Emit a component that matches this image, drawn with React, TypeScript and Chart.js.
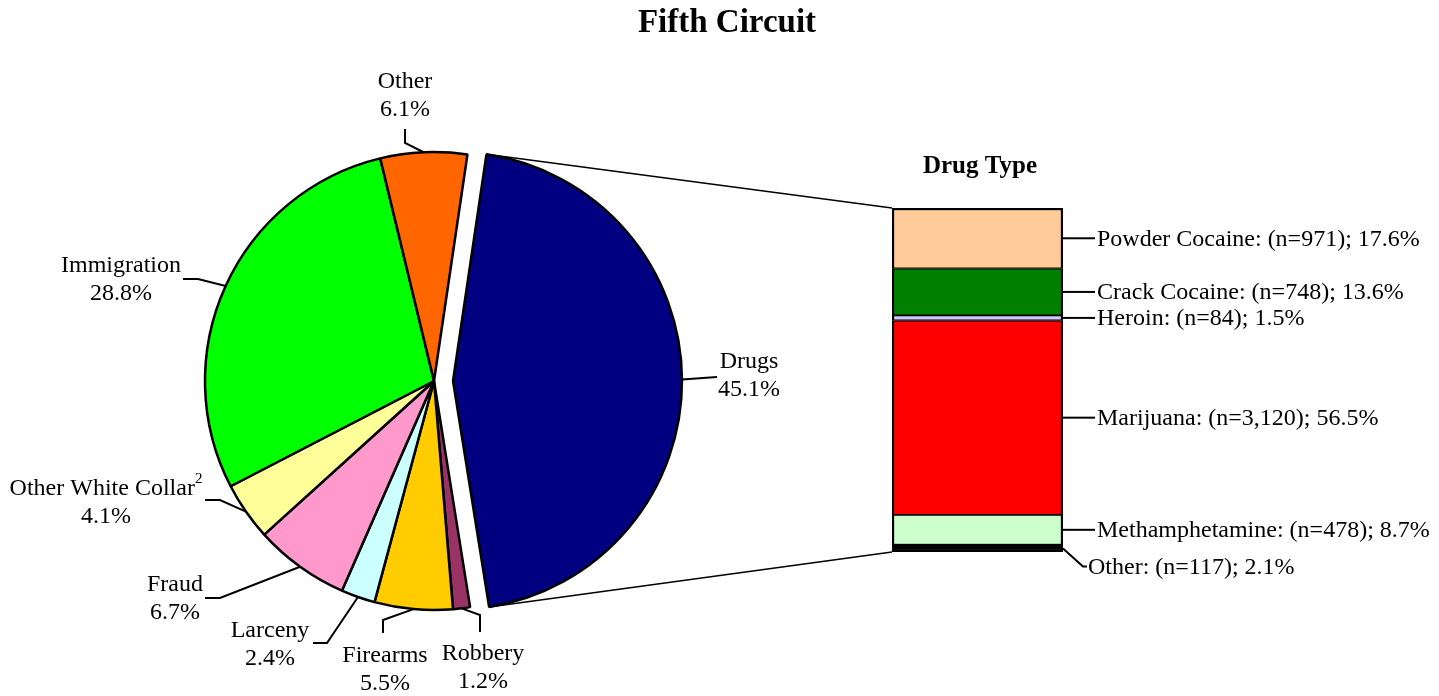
import React, { useEffect, useRef } from 'react';
import { Chart, registerables } from 'chart.js';

Chart.register(...registerables);

const W = 1439;
const H = 696;
const FONT = "'Liberation Serif', 'Times New Roman', serif";

// ---- Data: offense types (pie) ----
const offenseLabels = ['Drugs', 'Robbery', 'Firearms', 'Larceny', 'Fraud', 'Other White Collar', 'Immigration', 'Other'];
const offenseShares = [45.1, 1.2, 5.5, 2.4, 6.7, 4.1, 28.8, 6.1];
const offenseColors = ['#000080', '#993366', '#FFCC00', '#CCFFFF', '#FF99CC', '#FFFF99', '#00FF00', '#FF6600'];
const offenseSup = ['', '', '', '', '', '2', '', ''];

// ---- Data: drug types (stacked bar), bottom to top ----
const drugLabels = ['Other', 'Methamphetamine', 'Marijuana', 'Heroin', 'Crack Cocaine', 'Powder Cocaine'];
const drugCounts = [117, 478, 3120, 84, 748, 971];
const drugShares = [2.1, 8.7, 56.5, 1.5, 13.6, 17.6];
const drugColors = ['#000000', '#CCFFCC', '#FF0000', '#CCCCFF', '#008000', '#FFCC99'];

const TITLE = 'Fifth Circuit';
const BAR_TITLE = 'Drug Type';

// ---- Layout (positions of label text and leader elbows) ----
const pieLabelLayout = [
  { tx: 749, ty: 362, pts: [[717, 377]] },
  { tx: 483, ty: 654, pts: [[480, 632], [480, 615]] },
  { tx: 385, ty: 656, pts: [[383, 633], [383, 620]] },
  { tx: 270, ty: 631, pts: [[313, 643], [327, 643]] },
  { tx: 175, ty: 585, pts: [[205, 598], [220, 598]] },
  { tx: 106, ty: 489, pts: [[205, 500], [220, 500]] },
  { tx: 121, ty: 266, pts: [[183, 279], [198, 279]] },
  { tx: 405, ty: 82, pts: [[405, 129], [405, 143]] },
];
const barLabelDy = [18, 0, 0, 0, 0, 0];
const EXPLODE = 19;
const LABEL_FONT = 24;

export default function App() {
  const pieRef = useRef<HTMLCanvasElement>(null);
  const barRef = useRef<HTMLCanvasElement>(null);

  useEffect(() => {
    if (!pieRef.current || !barRef.current) return;

    const explodePlugin = {
      id: 'explode',
      afterDatasetsUpdate(chart: any) {
        const arc = chart.getDatasetMeta(0).data[0];
        const mid = (arc.startAngle + arc.endAngle) / 2;
        arc.x += EXPLODE * Math.cos(mid);
        arc.y += EXPLODE * Math.sin(mid);
      },
    };

    const pieLabelsPlugin = {
      id: 'pieLabels',
      afterDraw(chart: any) {
        const ctx = chart.ctx;
        const meta = chart.getDatasetMeta(0);
        ctx.save();
        ctx.fillStyle = '#000';
        ctx.textAlign = 'center';
        ctx.textBaseline = 'middle';
        ctx.font = `bold 33px ${FONT}`;
        ctx.fillText(TITLE, 727, 23);

        ctx.strokeStyle = '#000';
        ctx.lineWidth = 2;
        meta.data.forEach((arc: any, i: number) => {
          const L = pieLabelLayout[i];
          const mid = (arc.startAngle + arc.endAngle) / 2;
          const px = arc.x + arc.outerRadius * Math.cos(mid);
          const py = arc.y + arc.outerRadius * Math.sin(mid);
          ctx.beginPath();
          ctx.moveTo(L.pts[0][0], L.pts[0][1]);
          for (let k = 1; k < L.pts.length; k++) ctx.lineTo(L.pts[k][0], L.pts[k][1]);
          ctx.lineTo(px, py);
          ctx.stroke();

          ctx.font = `${LABEL_FONT}px ${FONT}`;
          const name = offenseLabels[i];
          const sup = offenseSup[i];
          if (sup) {
            const w1 = ctx.measureText(name).width;
            ctx.font = `15px ${FONT}`;
            const w2 = ctx.measureText(sup).width;
            const sx = L.tx - (w1 + w2) / 2;
            ctx.textAlign = 'left';
            ctx.font = `${LABEL_FONT}px ${FONT}`;
            ctx.fillText(name, sx, L.ty);
            ctx.font = `15px ${FONT}`;
            ctx.fillText(sup, sx + w1, L.ty - 10);
            ctx.textAlign = 'center';
            ctx.font = `${LABEL_FONT}px ${FONT}`;
          } else {
            ctx.fillText(name, L.tx, L.ty);
          }
          ctx.fillText(`${offenseShares[i].toFixed(1)}%`, L.tx, L.ty + 28);
        });
        ctx.restore();
      },
    };

    const pie = new Chart(pieRef.current, {
      type: 'pie',
      data: {
        labels: offenseLabels,
        datasets: [
          {
            data: offenseShares,
            backgroundColor: offenseColors,
            borderColor: '#000000',
            borderWidth: 2.5,
          },
        ],
      },
      options: {
        responsive: false,
        animation: false,
        events: [],
        rotation: 8.4,
        radius: 229,
        layout: { padding: { left: 0, right: W - 868, top: 66, bottom: 0 } },
        plugins: { legend: { display: false }, tooltip: { enabled: false } },
      } as any,
      plugins: [explodePlugin, pieLabelsPlugin],
    });

    const barLabelsPlugin = {
      id: 'barLabels',
      afterDraw(chart: any) {
        const ctx = chart.ctx;
        ctx.save();
        ctx.fillStyle = '#000';
        ctx.strokeStyle = '#000';
        ctx.lineWidth = 2;
        const top = chart.getDatasetMeta(drugLabels.length - 1).data[0];
        const bottom = chart.getDatasetMeta(0).data[0];
        const barLeft = top.x - top.width / 2;
        const barRight = top.x + top.width / 2;

        ctx.textAlign = 'center';
        ctx.textBaseline = 'middle';
        ctx.font = `bold 25px ${FONT}`;
        ctx.fillText(BAR_TITLE, 980, 167);

        ctx.font = `${LABEL_FONT}px ${FONT}`;
        ctx.textAlign = 'left';
        drugLabels.forEach((label, i) => {
          const el = chart.getDatasetMeta(i).data[0];
          const midY = (el.y + el.base) / 2;
          const ly = midY + barLabelDy[i];
          ctx.beginPath();
          if (barLabelDy[i]) {
            ctx.moveTo(barRight, midY);
            ctx.lineTo(barRight + 20, ly);
            ctx.lineTo(barRight + 24, ly);
          } else {
            ctx.moveTo(barRight, midY);
            ctx.lineTo(barRight + 32, ly);
          }
          ctx.stroke();
          const tx = barLabelDy[i] ? barRight + 25 : barRight + 34;
          ctx.fillText(
            `${label}: (n=${drugCounts[i].toLocaleString('en-US')}); ${drugShares[i].toFixed(1)}%`,
            tx,
            ly + 1
          );
        });

        // connectors from exploded slice to the bar
        const arc = pie.getDatasetMeta(0).data[0] as any;
        const r = arc.outerRadius;
        const sx = arc.x + r * Math.cos(arc.startAngle);
        const sy = arc.y + r * Math.sin(arc.startAngle);
        const ex = arc.x + r * Math.cos(arc.endAngle);
        const ey = arc.y + r * Math.sin(arc.endAngle);
        ctx.lineWidth = 1.5;
        ctx.beginPath();
        ctx.moveTo(sx, sy);
        ctx.lineTo(barLeft, top.y);
        ctx.moveTo(ex, ey);
        ctx.lineTo(barLeft, bottom.base);
        ctx.stroke();
        ctx.restore();
      },
    };

    const bar = new Chart(barRef.current, {
      type: 'bar',
      data: {
        labels: ['Drugs'],
        datasets: drugLabels.map((label, i) => ({
          label,
          data: [drugShares[i]],
          backgroundColor: drugColors[i],
          borderColor: '#000000',
          borderWidth: { left: 2.5, right: 2.5, top: i === drugLabels.length - 1 ? 2.5 : 1.25, bottom: i === 0 ? 2.5 : 1.25 },
          borderSkipped: false,
          barPercentage: 1,
          categoryPercentage: 1,
        })),
      },
      options: {
        responsive: false,
        animation: false,
        events: [],
        layout: { padding: { left: 892, right: W - 1063, top: 208, bottom: H - 552 } },
        scales: {
          x: { stacked: true, display: false },
          y: { stacked: true, display: false, min: 0, max: 100 },
        },
        plugins: { legend: { display: false }, tooltip: { enabled: false } },
      } as any,
      plugins: [barLabelsPlugin],
    });

    return () => {
      bar.destroy();
      pie.destroy();
    };
  }, []);

  return (
    <div style={{ position: 'absolute', left: 0, top: 0, width: W, height: H, background: '#fff' }}>
      <canvas ref={pieRef} width={W} height={H} style={{ position: 'absolute', left: 0, top: 0 }} />
      <canvas ref={barRef} width={W} height={H} style={{ position: 'absolute', left: 0, top: 0 }} />
    </div>
  );
}
